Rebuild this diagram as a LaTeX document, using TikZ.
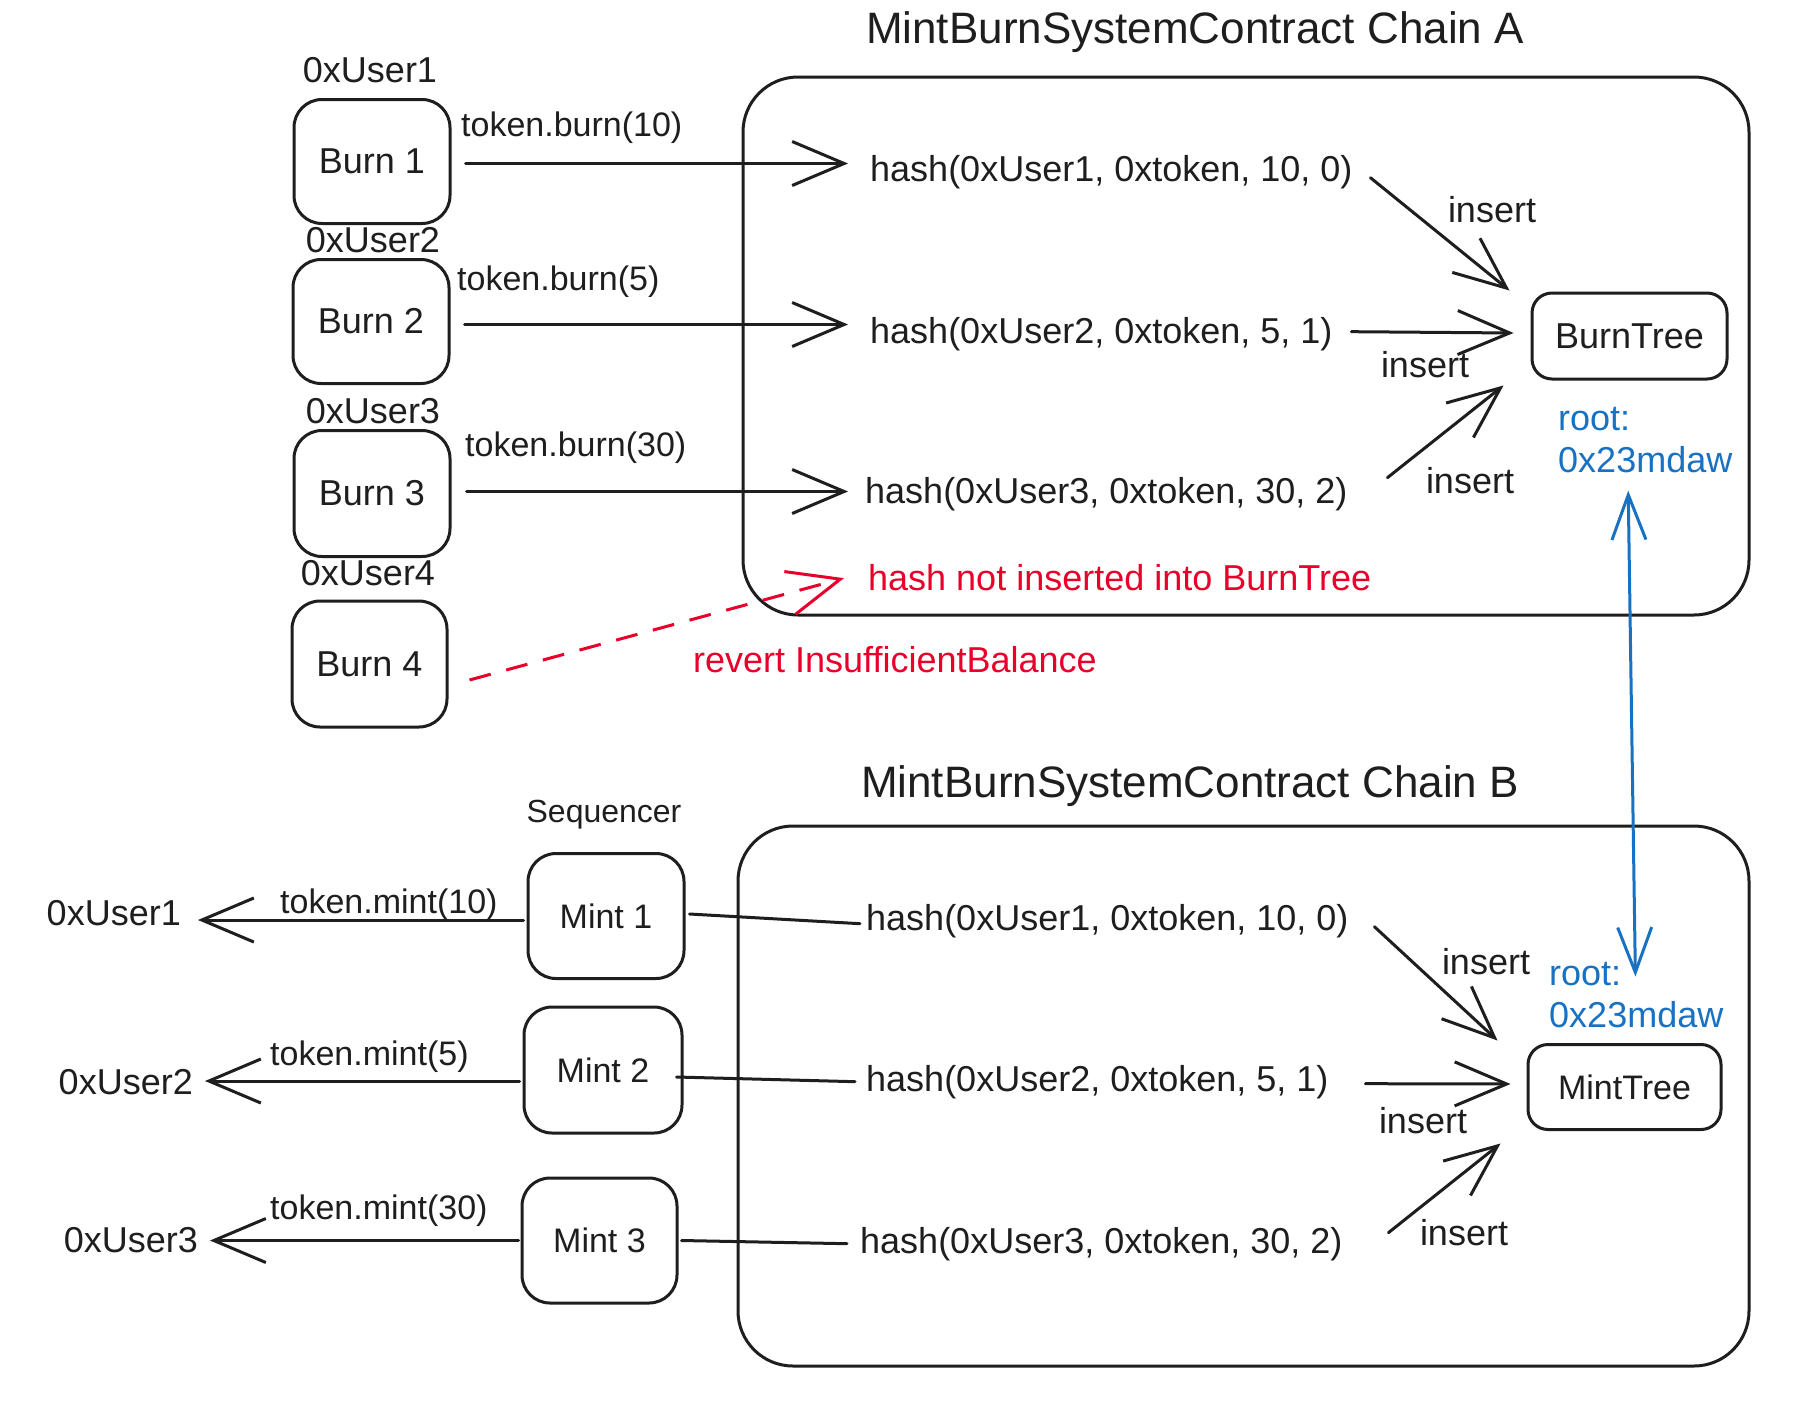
\documentclass[tikz,border=0pt]{standalone}
\usepackage{fontspec}
\setmainfont{Liberation Sans}
\usetikzlibrary{arrows.meta}
\definecolor{ink}{HTML}{1E1E1E}
\definecolor{exred}{HTML}{E8002A}
\definecolor{exblue}{HTML}{1971C2}
\newcommand\fszL{\fontsize{36}{42}\selectfont}
\newcommand\fszM{\fontsize{34}{40}\selectfont}
\newcommand\fszS{\fontsize{32}{38}\selectfont}
\newcommand\fszT{\fontsize{44}{50}\selectfont}
\tikzset{
  box/.style={draw=ink, line width=3pt, rounded corners=28pt, inner sep=0pt, text=ink, font=\fszL},
  chainbox/.style={draw=ink, line width=3pt, rounded corners=55pt, inner sep=0pt},
  treebox/.style={draw=ink, line width=3pt, rounded corners=20pt, inner sep=0pt, text=ink, font=\fszL},
  lbl/.style={inner sep=0pt, text=ink, font=\fszL},
  conn/.style={draw=ink, line width=3pt, line cap=round, line join=round},
  arr/.style={conn, -{Straight Barb[length=52pt,width=44pt]}},
  redarr/.style={draw=exred, line width=3pt, dash pattern=on 22pt off 16pt, -{Straight Barb[length=52pt,width=44pt]}},
  bluearr/.style={draw=exblue, line width=3pt, {Straight Barb[length=45pt,width=34pt]}-{Straight Barb[length=45pt,width=34pt]}},
}
\begin{document}
\begin{tikzpicture}[x=1pt,y=-1pt]
\fill[white] (0,0) rectangle (1820,1414);
\useasboundingbox (0,0) rectangle (1820,1414);

% contract boxes and titles
\node[chainbox, minimum width=1006pt, minimum height=538pt] (chainA) at (1246,346) {};
\node[chainbox, minimum width=1011pt, minimum height=540pt] (chainB) at (1243.5,1096) {};
\node[lbl, font=\fszT, anchor=base] (titleA) at (1195,43) {MintBurnSystemContract Chain A};
\node[lbl, font=\fszT, anchor=base] (titleB) at (1190,797) {MintBurnSystemContract Chain B};

% burn side
\node[box, minimum width=156pt, minimum height=124pt] (b1) at (372,161.5) {Burn 1};
\node[box, minimum width=156pt, minimum height=124pt] (b2) at (371,321.5) {Burn 2};
\node[box, minimum width=156pt, minimum height=126pt] (b3) at (372,493.5) {Burn 3};
\node[box, minimum width=155pt, minimum height=126pt] (b4) at (369.5,664) {Burn 4};

\node[lbl, anchor=base] (ua1) at (370,82) {0xUser1};
\node[lbl, anchor=base] (ua2) at (373,252) {0xUser2};
\node[lbl, anchor=base] (ua3) at (373,423) {0xUser3};
\node[lbl, anchor=base] (ua4) at (368,585) {0xUser4};

\node[lbl, font=\fszM, anchor=base west] (tb1) at (461,136) {token.burn(10)};
\node[lbl, font=\fszM, anchor=base west] (tb2) at (457,290) {token.burn(5)};
\node[lbl, font=\fszM, anchor=base west] (tb3) at (465,456) {token.burn(30)};

\node[lbl, anchor=base west] (hA1) at (870,181) {\makebox[483pt][l]{hash(0xUser1, 0xtoken, 10, 0)}};
\node[lbl, anchor=base west] (hA2) at (870,343) {\makebox[474pt][l]{hash(0xUser2, 0xtoken, 5, 1)}};
\node[lbl, anchor=base west] (hA3) at (865,503) {\makebox[512pt][l]{hash(0xUser3, 0xtoken, 30, 2)}};
\node[lbl, text=exred, anchor=base west] (rt) at (868,590) {hash not inserted into BurnTree};
\node[lbl, text=exred, anchor=base west] (rv) at (693,672) {revert InsufficientBalance};

\node[treebox, minimum width=195pt, minimum height=86pt] (bt) at (1629.5,336) {BurnTree};
\node[lbl, anchor=base] (iA1) at (1492,222) {insert};
\node[lbl, anchor=base] (iA2) at (1425,377) {insert};
\node[lbl, anchor=base] (iA3) at (1470,493) {insert};
\node[lbl, text=exblue, anchor=base west] (rA1) at (1558,430) {root:};
\node[lbl, text=exblue, anchor=base west] (rA2) at (1558,472) {\makebox[171pt][l]{0x23mdaw}};

\draw[arr] ([shift={(14,2)}]b1.east) -- ([shift={(-22,2)}]b1.east -| hA1.west);
\draw[arr] ([shift={(14,3)}]b2.east) -- ([shift={(-22,3)}]b2.east -| hA2.west);
\draw[arr] ([shift={(15,-2)}]b3.east) -- ([shift={(-17,-2)}]b3.east -| hA3.west);
\draw[redarr] ([shift={(21,16)}]b4.east) -- ([shift={(-24,1)}]rt.west);

\draw[arr] ([shift={(17,6)}]hA1.east) -- ([shift={(-21,-1)}]bt.north west);
\draw[arr] ([shift={(7,-2)}]hA2.east) -- ([shift={(-17,-3)}]bt.west);
\draw[arr] ([shift={(10,-16)}]hA3.east) -- ([shift={(-27,5)}]bt.south west);

% mint side
\node[lbl, font=\fszS, anchor=base] (seq) at (604,822) {Sequencer};
\node[box, font=\fszM, minimum width=156pt, minimum height=125pt] (m1) at (606,916) {Mint 1};
\node[box, font=\fszM, minimum width=158pt, minimum height=126pt] (m2) at (603,1070) {Mint 2};
\node[box, font=\fszM, minimum width=155pt, minimum height=125pt] (m3) at (599.5,1240.5) {Mint 3};

\node[lbl, anchor=base east] (uB1) at (181,925) {0xUser1};
\node[lbl, anchor=base east] (uB2) at (193,1094) {0xUser2};
\node[lbl, anchor=base east] (uB3) at (198,1252) {0xUser3};

\node[lbl, font=\fszM, anchor=base west] (tm1) at (280,913) {token.mint(10)};
\node[lbl, font=\fszM, anchor=base west] (tm2) at (270,1065) {token.mint(5)};
\node[lbl, font=\fszM, anchor=base west] (tm3) at (270,1219) {token.mint(30)};

\node[lbl, anchor=base west] (hB1) at (866,930) {\makebox[484pt][l]{hash(0xUser1, 0xtoken, 10, 0)}};
\node[lbl, anchor=base west] (hB2) at (866,1091) {\makebox[472pt][l]{hash(0xUser2, 0xtoken, 5, 1)}};
\node[lbl, anchor=base west] (hB3) at (860,1253) {\makebox[512pt][l]{hash(0xUser3, 0xtoken, 30, 2)}};

\node[treebox, font=\fszM, minimum width=193pt, minimum height=85pt] (mt) at (1624.5,1087) {MintTree};
\node[lbl, anchor=base] (iB1) at (1486,974) {insert};
\node[lbl, anchor=base] (iB2) at (1423,1133) {insert};
\node[lbl, anchor=base] (iB3) at (1464,1245) {insert};
\node[lbl, text=exblue, anchor=base west] (rB1) at (1549,985) {\makebox[78pt][l]{root:}};
\node[lbl, text=exblue, anchor=base west] (rB2) at (1549,1027) {0x23mdaw};

\draw[arr] ([shift={(-3,4)}]m1.west) -- ([shift={(17,4)}]m1.west -| uB1.east);
\draw[arr] ([shift={(-3,11)}]m2.west) -- ([shift={(12,11)}]m2.west -| uB2.east);
\draw[arr] ([shift={(-2,0)}]m3.west) -- ([shift={(12,0)}]m3.west -| uB3.east);

\draw[conn] ([shift={(4,-2)}]m1.east) -- ([shift={(-6,3)}]hB1.west);
\draw[conn] ([shift={(-7,7)}]m2.east) -- ([shift={(-11,0)}]hB2.west);
\draw[conn] ([shift={(3,0)}]m3.east) -- ([shift={(-13,0)}]hB3.west);

\draw[arr] ([shift={(24,6)}]hB1.east) -- ([shift={(-29,-2.5)}]mt.north west);
\draw[arr] ([shift={(27,2)}]hB2.east) -- ([shift={(-16,-3)}]mt.west);
\draw[arr] ([shift={(16,-11)}]hB3.east) -- ([shift={(-26,12.5)}]mt.south west);

% root sync
\draw[bluearr] ([shift={(-15.5,18)}]rA2.south) -- ([shift={(8,3)}]rB1.east);
\end{tikzpicture}
\end{document}
